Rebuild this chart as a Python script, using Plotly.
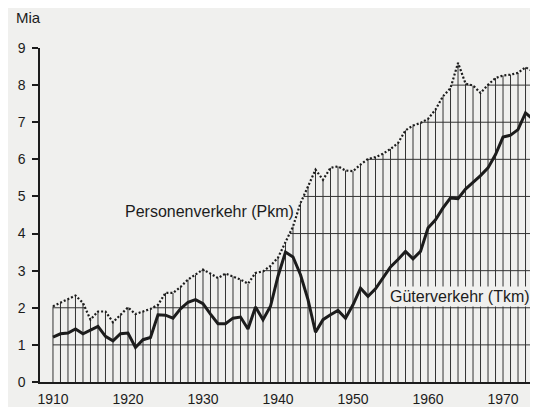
import plotly.graph_objects as go

# ---- data ----
years = list(range(1910, 1975))

pkm = [2.04, 2.13, 2.22, 2.33, 2.13, 1.68, 1.90, 1.90, 1.61, 1.81,
       2.01, 1.83, 1.90, 1.97, 2.08, 2.40, 2.40, 2.56, 2.76, 2.89,
       3.03, 2.92, 2.80, 2.92, 2.85, 2.76, 2.65, 2.94, 2.98, 3.13,
       3.35, 3.75, 4.19, 4.82, 5.27, 5.72, 5.45, 5.77, 5.81, 5.70,
       5.68, 5.86, 6.01, 6.06, 6.15, 6.28, 6.44, 6.78, 6.91, 6.98,
       7.09, 7.34, 7.70, 7.92, 8.60, 8.04, 7.99, 7.79, 8.01, 8.19,
       8.26, 8.28, 8.33, 8.48, 8.37]

tkm = [1.21, 1.30, 1.32, 1.43, 1.30, 1.39, 1.50, 1.23, 1.11, 1.30,
       1.32, 0.93, 1.14, 1.20, 1.81, 1.80, 1.72, 1.97, 2.15, 2.22,
       2.11, 1.83, 1.57, 1.57, 1.72, 1.75, 1.43, 2.02, 1.68, 2.04,
       2.85, 3.50, 3.37, 2.89, 2.22, 1.34, 1.68, 1.81, 1.93, 1.72,
       2.08, 2.53, 2.31, 2.51, 2.80, 3.10, 3.30, 3.52, 3.32, 3.52,
       4.15, 4.37, 4.69, 4.96, 4.94, 5.20, 5.38, 5.56, 5.77, 6.13,
       6.60, 6.65, 6.80, 7.25, 7.08]

xtick_vals = [1910, 1920, 1930, 1940, 1950, 1960, 1970]
xtick_text = ["1910", "1920", "1930", "1940", "1950", "1960", "1970"]
ytick_vals = [0, 1, 2, 3, 4, 5, 6, 7, 8, 9]
grid_levels = [1, 2, 3, 4, 5, 6, 7, 8]

label_pkm = "Personenverkehr (Pkm)"
label_tkm = "Güterverkehr (Tkm)"
unit_label = "Mia"

# ---- styling ----
BG = "#f0f0ee"
INK = "#1c1c1c"
GRID = "#333333"
FONT = "Liberation Sans, Arial, Helvetica, sans-serif"

# vertical hatch lines: one per year from 0 up to the Pkm curve
vx, vy = [], []
for x, p in zip(years, pkm):
    vx += [x, x, None]
    vy += [0, p, None]

# horizontal hatch lines: only where they lie under the Pkm curve
hx, hy = [], []
for k in grid_levels:
    for i in range(len(years) - 1):
        x0, x1 = years[i], years[i + 1]
        p0, p1 = pkm[i], pkm[i + 1]
        if p0 < k and p1 < k:
            continue
        if p0 >= k and p1 >= k:
            xa, xb = x0, x1
        else:
            xc = x0 + (k - p0) / (p1 - p0) * (x1 - x0)
            xa, xb = (x0, xc) if p0 >= k else (xc, x1)
        hx += [xa, xb, None]
        hy += [k, k, None]

fig = go.Figure()
fig.add_trace(go.Scatter(x=vx, y=vy, mode="lines",
                         line=dict(color=GRID, width=1), hoverinfo="skip",
                         showlegend=False))
fig.add_trace(go.Scatter(x=hx, y=hy, mode="lines",
                         line=dict(color=GRID, width=1), hoverinfo="skip",
                         showlegend=False))
fig.add_trace(go.Scatter(x=years, y=pkm, mode="lines", name=label_pkm,
                         line=dict(color=INK, width=2.2, dash="2px,2px"),
                         showlegend=False))
fig.add_trace(go.Scatter(x=years, y=tkm, mode="lines", name=label_tkm,
                         line=dict(color=INK, width=3),
                         showlegend=False))

fig.add_annotation(x=1919.3, y=4.60, xref="x", yref="y", text=label_pkm,
                   showarrow=False, xanchor="left", yanchor="middle",
                   font=dict(family=FONT, size=16, color=INK))
fig.add_annotation(x=1954.7, y=2.31, xref="x", yref="y", text=label_tkm,
                   showarrow=False, xanchor="left", yanchor="middle",
                   bgcolor=BG, borderpad=1,
                   font=dict(family=FONT, size=16, color=INK))
fig.add_annotation(x=-0.052, y=1.09, xref="paper", yref="paper",
                   text=unit_label, showarrow=False, xanchor="left",
                   yanchor="middle",
                   font=dict(family=FONT, size=15, color=INK))

# the page body has an 8px margin, so the figure is sized to fill the rest
fig.update_layout(
    width=530, height=399,
    margin=dict(l=32, r=1, t=40, b=25, autoexpand=False),
    paper_bgcolor=BG, plot_bgcolor=BG,
    font=dict(family=FONT, size=14, color=INK),
    showlegend=False,
)
fig.update_xaxes(range=[1908.27, 1974.53], showgrid=False, zeroline=False,
                 showline=True, linecolor=INK, linewidth=1.5,
                 tickvals=xtick_vals, ticktext=xtick_text, ticks="",
                 ticklabelstandoff=3, tickfont=dict(size=14, color=INK),
                 automargin=False)
fig.update_yaxes(range=[0, 9], showgrid=False, zeroline=False,
                 showline=True, linecolor=INK, linewidth=1.5,
                 tickvals=ytick_vals, ticks="outside", ticklen=6,
                 tickwidth=1.5, tickcolor=INK,
                 ticklabelstandoff=4, tickfont=dict(size=14, color=INK),
                 automargin=False)

fig.write_html("out.html")
